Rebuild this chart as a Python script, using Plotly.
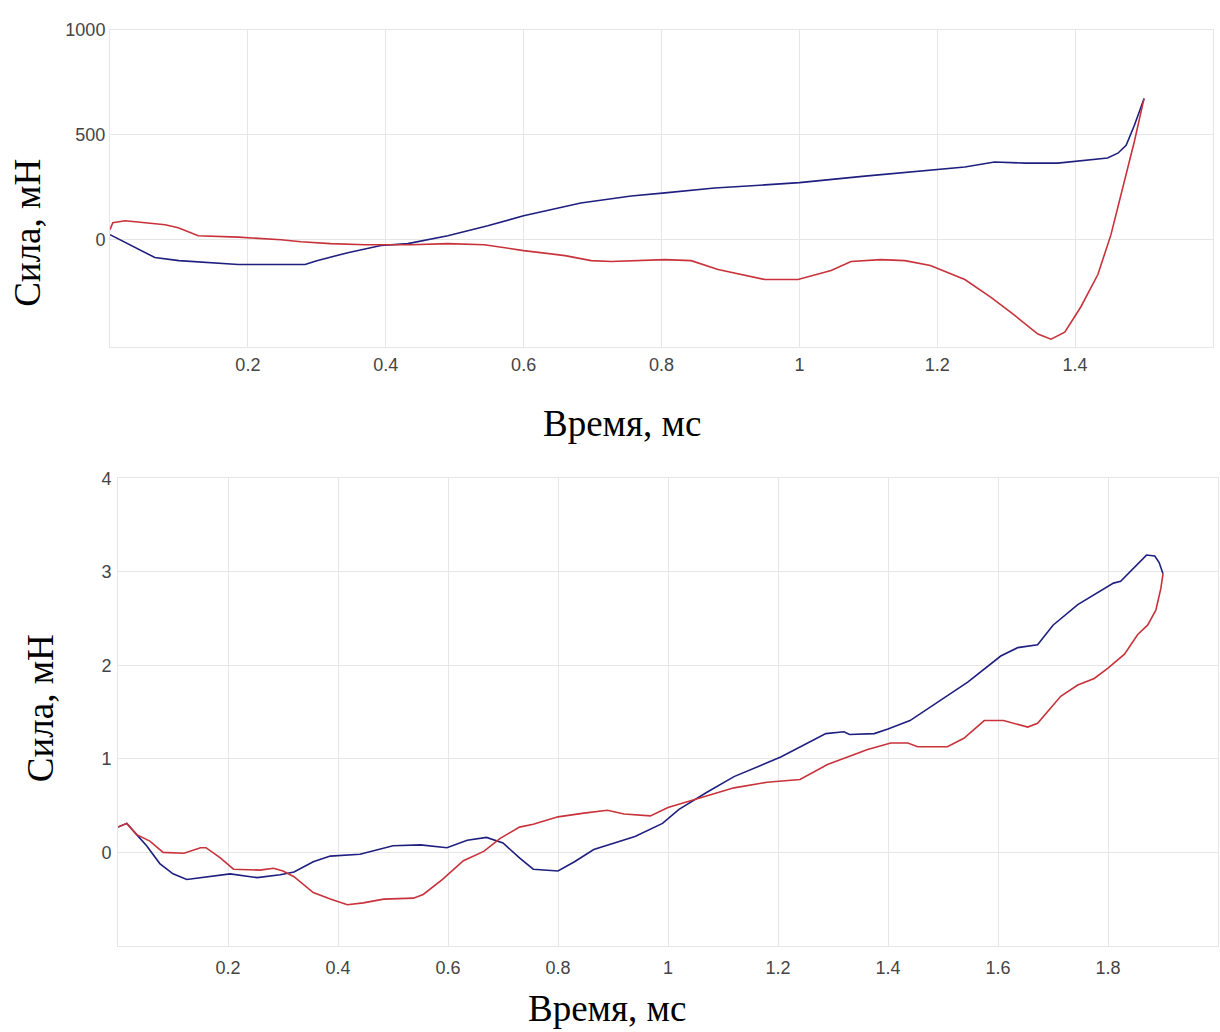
import plotly.graph_objects as go

# Upper panel: force vs time, two traces
top_blue_t = [0.0, 0.03, 0.065, 0.10, 0.152, 0.186, 0.283, 0.30, 0.345, 0.393, 0.432, 0.49,
              0.548, 0.60, 0.683, 0.756, 0.805, 0.877, 0.95, 1.0, 1.095, 1.19, 1.24, 1.283,
              1.327, 1.375, 1.408, 1.447, 1.462, 1.474, 1.486, 1.50]
top_blue_f = [24, -28, -85, -100, -109, -118, -118, -100, -62, -28, -19, 19,
              66, 114, 175, 208, 223, 246, 261, 272, 303, 332, 346, 370,
              365, 365, 375, 389, 412, 450, 545, 673]

top_red_t = [0.0, 0.004, 0.022, 0.08, 0.099, 0.128, 0.186, 0.248, 0.277, 0.32, 0.37, 0.437,
             0.49, 0.543, 0.60, 0.66, 0.698, 0.727, 0.805, 0.843, 0.882, 0.925, 0.95, 0.998,
             1.046, 1.075, 1.118, 1.153, 1.19, 1.24, 1.278, 1.312, 1.346, 1.365, 1.385, 1.408,
             1.433, 1.452, 1.472, 1.486, 1.50]
top_red_f = [47, 81, 90, 71, 57, 19, 12, 0, -10, -19, -24, -24,
             -19, -24, -52, -76, -100, -104, -95, -100, -142, -171, -190, -190,
             -147, -104, -95, -100, -123, -190, -275, -360, -450, -474, -441, -322,
             -166, 24, 280, 469, 673]

# Lower panel: force vs time, two traces
bot_blue_t = [0.0, 0.016, 0.034, 0.052, 0.076, 0.10, 0.125, 0.162, 0.204, 0.253, 0.295, 0.32,
              0.355, 0.386, 0.44, 0.50, 0.55, 0.598, 0.635, 0.67, 0.70, 0.73, 0.755, 0.80,
              0.83, 0.865, 0.94, 0.99, 1.02, 1.07, 1.12, 1.205, 1.287, 1.32, 1.33, 1.375,
              1.40, 1.44, 1.484, 1.545, 1.605, 1.636, 1.672, 1.70, 1.745, 1.775, 1.81, 1.823,
              1.848, 1.87, 1.885, 1.893, 1.90]
bot_blue_f = [0.27, 0.31, 0.19, 0.07, -0.12, -0.23, -0.29, -0.26, -0.23, -0.27, -0.24, -0.21,
              -0.10, -0.04, -0.02, 0.07, 0.08, 0.05, 0.13, 0.16, 0.10, -0.06, -0.18, -0.20,
              -0.10, 0.03, 0.17, 0.31, 0.46, 0.64, 0.81, 1.02, 1.27, 1.29, 1.26, 1.27,
              1.32, 1.41, 1.58, 1.82, 2.10, 2.19, 2.22, 2.43, 2.65, 2.76, 2.88, 2.90,
              3.05, 3.18, 3.17, 3.10, 2.98]

bot_red_t = [0.0, 0.016, 0.034, 0.058, 0.082, 0.12, 0.15, 0.16, 0.186, 0.21, 0.258, 0.283,
             0.30, 0.32, 0.355, 0.386, 0.417, 0.446, 0.483, 0.537, 0.555, 0.59, 0.628, 0.665,
             0.695, 0.73, 0.755, 0.80, 0.847, 0.89, 0.92, 0.968, 1.0, 1.046, 1.12, 1.18,
             1.24, 1.29, 1.363, 1.405, 1.436, 1.454, 1.508, 1.538, 1.575, 1.61, 1.654, 1.672,
             1.714, 1.745, 1.775, 1.80, 1.83, 1.854, 1.872, 1.887, 1.896, 1.90]
bot_red_f = [0.27, 0.31, 0.19, 0.12, 0.0, -0.01, 0.05, 0.05, -0.06, -0.18, -0.19, -0.17,
             -0.20, -0.26, -0.43, -0.50, -0.56, -0.54, -0.50, -0.49, -0.45, -0.29, -0.09, 0.01,
             0.15, 0.27, 0.30, 0.38, 0.42, 0.45, 0.41, 0.39, 0.48, 0.56, 0.69, 0.75,
             0.78, 0.94, 1.10, 1.17, 1.17, 1.13, 1.13, 1.22, 1.41, 1.41, 1.34, 1.38,
             1.67, 1.79, 1.86, 1.97, 2.12, 2.33, 2.43, 2.59, 2.82, 2.98]

top_xticks = [0.2, 0.4, 0.6, 0.8, 1.0, 1.2, 1.4]
top_xlabels = ["0.2", "0.4", "0.6", "0.8", "1", "1.2", "1.4"]
top_yticks = [0, 500, 1000]
bot_xticks = [0.2, 0.4, 0.6, 0.8, 1.0, 1.2, 1.4, 1.6, 1.8]
bot_xlabels = ["0.2", "0.4", "0.6", "0.8", "1", "1.2", "1.4", "1.6", "1.8"]
bot_yticks = [0, 1, 2, 3, 4]

y_title = "Сила, мН"
x_title = "Время, мс"

BLUE = "#1f1f80"
RED = "#c8323a"
GRID = "#e6e6e6"
W, H = 1220, 1032

fig = go.Figure()
fig.add_trace(go.Scatter(x=top_blue_t, y=top_blue_f, mode="lines",
                         line=dict(color=BLUE, width=1.6), xaxis="x", yaxis="y"))
fig.add_trace(go.Scatter(x=top_red_t, y=top_red_f, mode="lines",
                         line=dict(color=RED, width=1.6), xaxis="x", yaxis="y"))
fig.add_trace(go.Scatter(x=bot_blue_t, y=bot_blue_f, mode="lines",
                         line=dict(color=BLUE, width=1.6), xaxis="x2", yaxis="y2"))
fig.add_trace(go.Scatter(x=bot_red_t, y=bot_red_f, mode="lines",
                         line=dict(color=RED, width=1.6), xaxis="x2", yaxis="y2"))

tickfont = dict(family="Arial, Liberation Sans, sans-serif", size=18, color="#444444")
axis_common = dict(showgrid=True, gridcolor=GRID, gridwidth=1, zeroline=False,
                   showline=True, linecolor=GRID, mirror=True, ticks="",
                   tickfont=tickfont)

fig.update_layout(
    width=W, height=H,
    margin=dict(l=0, r=0, t=0, b=0),
    paper_bgcolor="white", plot_bgcolor="white",
    showlegend=False,
    xaxis=dict(domain=[110 / W, 1213 / W], range=[0, 1.6], anchor="y",
               tickvals=top_xticks, ticktext=top_xlabels, ticklabelstandoff=2,
               **axis_common),
    yaxis=dict(domain=[1 - 340 / H, 1 - 20 / H], range=[-510, 1000], anchor="x",
               tickvals=top_yticks, ticklabelstandoff=0, **axis_common),
    xaxis2=dict(domain=[118 / W, 1218 / W], range=[0, 2.0], anchor="y2",
                tickvals=bot_xticks, ticktext=bot_xlabels, ticklabelstandoff=6,
                **axis_common),
    yaxis2=dict(domain=[1 - 945 / H, 1 - 473 / H], range=[-1, 4], anchor="x2",
                tickvals=bot_yticks, ticklabelstandoff=2, **axis_common),
)

title_font = dict(family="Liberation Serif, Times New Roman, serif", size=37, color="#000000")
annotations = [
    dict(text=y_title, x=28 / W, y=1 - 225 / H, textangle=-90),
    dict(text=x_title, x=622 / W, y=1 - 418 / H, textangle=0),
    dict(text=y_title, x=40 / W, y=1 - 705 / H, textangle=-90),
    dict(text=x_title, x=607 / W, y=1 - 1008 / H, textangle=0),
]
for a in annotations:
    fig.add_annotation(xref="paper", yref="paper", xanchor="center", yanchor="middle",
                       showarrow=False, font=title_font, **a)

fig.write_html("out.html")
